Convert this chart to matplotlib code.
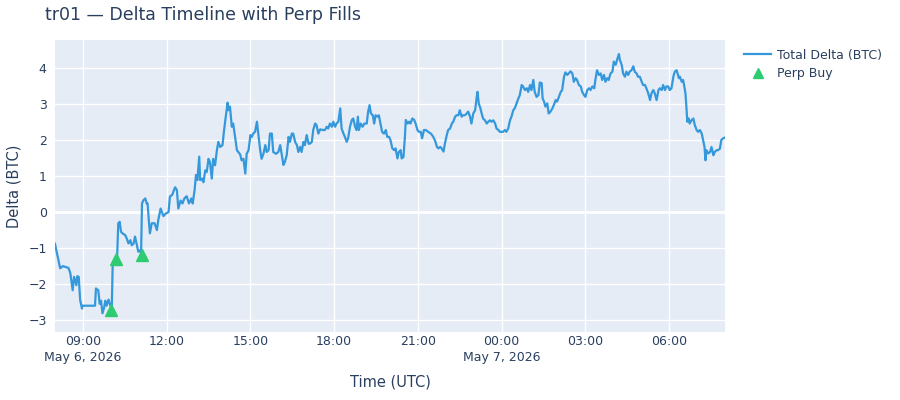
import pandas as pd
import matplotlib
matplotlib.use("Agg")
import matplotlib.pyplot as plt

# 数据：从 2026-05-06 08:00 起的分钟偏移 和 对应的 Delta (BTC)
start = pd.Timestamp("2026-05-06 08:00")
end = pd.Timestamp("2026-05-07 08:00")

minutes = [0, 8, 11, 17, 22, 29, 33, 38, 41, 46, 48, 51, 54, 58, 59, 86, 88, 93, 96, 99,
           102, 106, 108, 111, 115, 119, 122, 124, 129, 133, 136, 139, 142, 146, 151, 154, 158, 162, 165, 169,
           172, 176, 179, 183, 185, 187, 190, 194, 197, 199, 201, 204, 208, 214, 219, 222, 227, 233, 238, 244,
           247, 252, 258, 262, 265, 270, 274, 278, 283, 288, 293, 296, 300, 303, 306, 310, 312, 316, 319, 323,
           326, 330, 333, 337, 340, 344, 348, 351, 355, 360, 363, 367, 371, 373, 376, 380, 383, 387, 391, 394,
           398, 401, 405, 409, 412, 416, 420, 423, 426, 430, 434, 437, 441, 444, 448, 452, 455, 459, 462, 466,
           469, 475, 480, 484, 487, 491, 494, 498, 502, 505, 509, 512, 516, 520, 523, 527, 530, 534, 537, 541,
           545, 548, 552, 555, 559, 562, 566, 570, 575, 580, 584, 587, 591, 595, 598, 602, 605, 609, 613, 616,
           620, 623, 627, 630, 634, 638, 641, 645, 648, 651, 653, 657, 661, 665, 670, 673, 676, 679, 683, 686,
           689, 693, 696, 700, 703, 707, 711, 714, 718, 721, 725, 729, 732, 736, 739, 743, 745, 749, 752, 754,
           758, 761, 764, 768, 772, 775, 779, 782, 786, 789, 793, 797, 802, 808, 813, 817, 821, 824, 828, 831,
           835, 838, 842, 845, 849, 853, 856, 860, 863, 867, 870, 874, 877, 881, 885, 888, 892, 895, 899, 903,
           906, 908, 911, 914, 917, 920, 924, 928, 931, 935, 938, 942, 946, 949, 953, 956, 960, 963, 967, 970,
           974, 978, 981, 985, 988, 992, 996, 999, 1003, 1006, 1010, 1014, 1017, 1021, 1024, 1028, 1031, 1035, 1039, 1042,
           1046, 1048, 1051, 1054, 1058, 1061, 1065, 1069, 1072, 1076, 1079, 1083, 1087, 1090, 1094, 1097, 1101, 1104, 1108, 1112,
           1115, 1119, 1122, 1126, 1130, 1133, 1137, 1140, 1144, 1148, 1151, 1155, 1159, 1162, 1165, 1169, 1173, 1176, 1180, 1183,
           1187, 1190, 1194, 1198, 1201, 1205, 1208, 1212, 1214, 1218, 1221, 1225, 1228, 1232, 1235, 1239, 1243, 1246, 1250, 1253,
           1257, 1261, 1264, 1268, 1271, 1275, 1279, 1282, 1286, 1289, 1293, 1297, 1300, 1304, 1307, 1311, 1314, 1318, 1321, 1325,
           1329, 1332, 1336, 1338, 1341, 1343, 1347, 1350, 1352, 1355, 1357, 1359, 1362, 1364, 1368, 1372, 1375, 1379, 1382, 1386,
           1390, 1393, 1396, 1398, 1400, 1404, 1408, 1411, 1415, 1418, 1422, 1425, 1429, 1432, 1436, 1440]

delta = [-0.88, -1.38, -1.56, -1.50, -1.52, -1.55, -1.70, -2.17, -1.80, -2.03, -1.78, -1.80, -2.44, -2.68, -2.60, -2.60, -2.12, -2.17, -2.55, -2.46,
         -2.81, -2.63, -2.46, -2.60, -2.43, -2.60, -2.70, -1.43, -1.38, -1.43, -0.31, -0.27, -0.55, -0.60, -0.64, -0.73, -0.87, -0.78, -0.92, -0.87,
         -0.68, -0.92, -1.10, -1.06, -1.15, 0.24, 0.33, 0.38, 0.24, 0.24, -0.12, -0.59, -0.31, -0.31, -0.50, -0.22, 0.10, -0.11, -0.04, 0.00,
         0.43, 0.48, 0.69, 0.61, 0.10, 0.32, 0.24, 0.38, 0.44, 0.24, 0.38, 0.24, 0.61, 1.03, 0.89, 1.54, 0.89, 0.93, 0.83, 1.16,
         1.11, 1.48, 1.39, 0.93, 1.48, 1.30, 1.72, 1.95, 1.81, 1.86, 2.23, 2.65, 3.04, 2.83, 2.93, 2.37, 2.46, 2.09, 1.72, 1.67,
         1.60, 1.44, 1.48, 1.07, 1.62, 1.72, 2.14, 2.09, 2.18, 2.23, 2.51, 2.18, 1.72, 1.48, 1.62, 1.86, 1.67, 1.72, 2.18, 2.18,
         1.67, 1.62, 1.67, 1.86, 1.62, 1.31, 1.39, 1.58, 2.09, 1.95, 2.18, 2.18, 1.95, 1.86, 1.67, 1.81, 1.67, 1.95, 1.86, 2.14,
         1.90, 1.90, 1.95, 2.28, 2.46, 2.42, 2.18, 2.30, 2.28, 2.28, 2.37, 2.32, 2.46, 2.37, 2.51, 2.37, 2.46, 2.51, 2.88, 2.32,
         2.18, 2.09, 1.95, 2.05, 2.37, 2.56, 2.60, 2.37, 2.28, 2.65, 2.28, 2.46, 2.37, 2.46, 2.46, 2.79, 2.97, 2.74, 2.69, 2.46,
         2.69, 2.65, 2.69, 2.42, 2.23, 2.18, 2.28, 2.09, 2.09, 2.00, 1.77, 1.72, 1.77, 1.49, 1.67, 1.72, 1.49, 1.53, 2.09, 2.56,
         2.46, 2.51, 2.46, 2.60, 2.56, 2.46, 2.28, 2.23, 2.23, 2.05, 2.28, 2.28, 2.23, 2.18, 2.09, 1.98, 1.81, 1.77, 1.81, 1.77,
         1.68, 1.90, 2.14, 2.28, 2.32, 2.46, 2.51, 2.65, 2.69, 2.69, 2.83, 2.65, 2.69, 2.69, 2.74, 2.79, 2.65, 2.46, 2.74, 2.83,
         3.16, 3.34, 3.00, 2.90, 2.74, 2.60, 2.55, 2.46, 2.51, 2.55, 2.51, 2.55, 2.46, 2.32, 2.28, 2.23, 2.23, 2.23, 2.28, 2.23,
         2.32, 2.55, 2.65, 2.83, 2.88, 3.02, 3.16, 3.25, 3.53, 3.49, 3.39, 3.44, 3.34, 3.53, 3.39, 3.67, 3.34, 3.20, 3.25, 3.60,
         3.58, 3.16, 3.07, 2.93, 3.02, 2.74, 2.79, 2.88, 2.97, 3.11, 3.07, 3.20, 3.34, 3.39, 3.76, 3.88, 3.81, 3.85, 3.91, 3.85,
         3.62, 3.72, 3.67, 3.53, 3.49, 3.34, 3.25, 3.20, 3.39, 3.44, 3.39, 3.49, 3.44, 3.72, 3.94, 3.81, 3.85, 3.67, 3.81, 3.62,
         3.72, 3.67, 3.85, 3.90, 4.18, 4.09, 4.23, 4.39, 4.23, 4.09, 3.85, 3.76, 3.90, 3.81, 3.90, 3.94, 4.05, 3.90, 3.85, 3.76,
         3.76, 3.62, 3.53, 3.53, 3.44, 3.30, 3.11, 3.30, 3.39, 3.30, 3.11, 3.39, 3.44, 3.39, 3.53, 3.39, 3.49, 3.49, 3.39, 3.44,
         3.76, 3.90, 3.94, 3.85, 3.72, 3.76, 3.62, 3.67, 3.53, 3.30, 2.93, 2.51, 2.60, 2.46, 2.55, 2.60, 2.42, 2.28, 2.23, 2.28,
         2.18, 2.00, 1.81, 1.44, 1.72, 1.63, 1.67, 1.81, 1.58, 1.67, 1.72, 1.72, 1.76, 2.00, 2.05, 2.07]

# Perp 买入成交
fill_minutes = [121, 131, 187]
fill_delta = [-2.72, -1.31, -1.19]

times = start + pd.to_timedelta(minutes, unit="min")
fill_times = start + pd.to_timedelta(fill_minutes, unit="min")

txt = "#2a3f5f"
plt.rcParams['font.family'] = ['DejaVu Sans']

fig = plt.figure(figsize=(9, 4), dpi=100)
ax = fig.add_axes([55 / 900, 1 - 332 / 400, 670 / 900, 292 / 400])
ax.set_facecolor("#E5ECF6")
for s in ax.spines.values():
    s.set_visible(False)

ax.plot(times, delta, color="#3498db", lw=1.6, label="Total Delta (BTC)", zorder=3)
ax.plot(fill_times, fill_delta, ls="none", marker="^", ms=9, color="#2ecc71",
        mec="#2ecc71", label="Perp Buy", zorder=4)

ax.set_xlim(start, end)
ax.set_ylim(-3.33, 4.78)
ax.set_yticks(range(-3, 5))
ax.axhline(0, color="white", lw=2, zorder=1)

ticks = pd.date_range("2026-05-06 09:00", "2026-05-07 06:00", freq="3h")
labels = []
for i, t in enumerate(ticks):
    lab = t.strftime("%H:%M")
    if i == 0 or (t.hour == 0 and t.minute == 0):
        lab += "\n" + t.strftime("%b %-d, %Y")
    labels.append(lab)
ax.set_xticks(ticks)
ax.set_xticklabels(labels, ha="center", linespacing=1.3)

ax.grid(True, color="white", lw=1)
ax.set_axisbelow(True)
ax.tick_params(axis="both", length=0, labelsize=9, colors=txt, pad=6)
ax.tick_params(axis="x", pad=2)

ax.set_xlabel("Time (UTC)", fontsize=10.5, color=txt, labelpad=8)
ax.set_ylabel("Delta (BTC)", fontsize=10.5, color=txt, labelpad=5)
fig.text(45 / 900, 1 - 15 / 400, "tr01 — Delta Timeline with Perp Fills", fontsize=12.5,
         color=txt, ha="left", va="center")

leg = ax.legend(loc="upper left", bbox_to_anchor=(1.015, 1.0), frameon=False, fontsize=9,
                handlelength=2.2, labelcolor=txt, borderaxespad=0.3, handletextpad=0.45,
                labelspacing=0.45)
leg.legend_handles[1].set_markersize(7)

fig.savefig("out.png", dpi=100)
